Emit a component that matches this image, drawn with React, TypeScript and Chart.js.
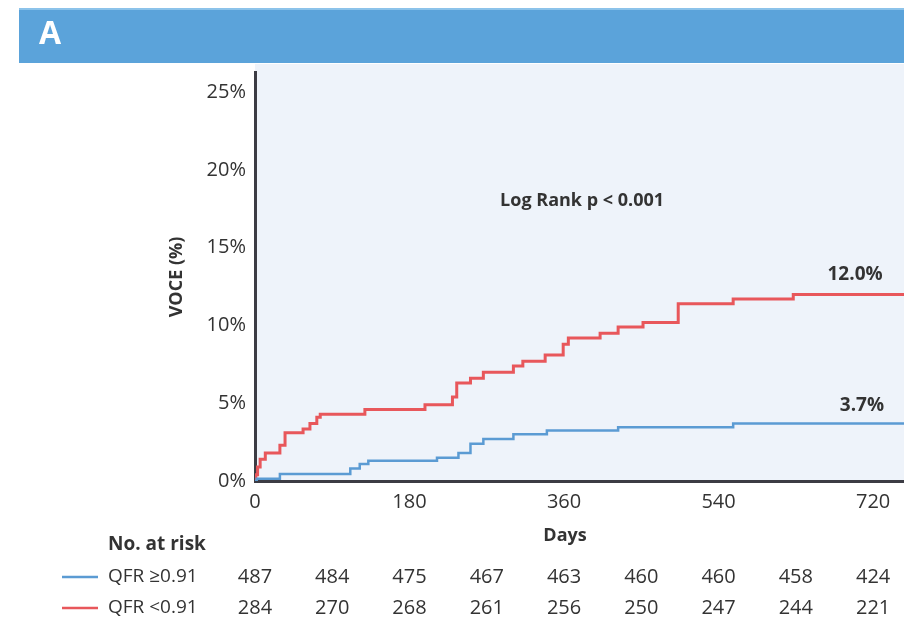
import React, { useEffect, useRef } from 'react';
import { Chart, registerables } from 'chart.js';

Chart.register(...registerables);

// Kaplan–Meier style cumulative incidence (VOCE, %)
const highDays = [0, 2, 29, 111, 122, 132, 212, 237, 251, 266, 301, 340, 423, 557, 756];
const highValues = [0, 0.15, 0.45, 0.8, 1.1, 1.3, 1.5, 1.8, 2.4, 2.7, 3.0, 3.25, 3.45, 3.7, 3.7];

const lowDays = [0, 1, 3, 6, 12, 29, 35, 56, 64, 72, 76, 128, 198, 230, 235, 251, 266, 301, 312, 338, 359, 365, 402, 423, 452, 493, 557, 627, 756];
const lowValues = [0, 0.4, 0.9, 1.4, 1.8, 2.3, 3.1, 3.35, 3.7, 4.1, 4.3, 4.6, 4.9, 5.4, 6.3, 6.6, 7.0, 7.4, 7.7, 8.1, 8.8, 9.2, 9.5, 9.9, 10.2, 11.4, 11.7, 12.0, 12.0];

const xTicks = [0, 180, 360, 540, 720];
const yTicks = [0, 5, 10, 15, 20, 25];

const riskDays = [0, 90, 180, 270, 360, 450, 540, 630, 720];
const riskHigh = [487, 484, 475, 467, 463, 460, 460, 458, 424];
const riskLow = [284, 270, 268, 261, 256, 250, 247, 244, 221];

const seriesLabels = ['QFR \u22650.91', 'QFR <0.91'];
const finalLabels = ['3.7%', '12.0%'];

const BLUE = '#5b9bd3';
const RED = '#e8575b';
const TEXT = '#333333';
const FONT = '"Open Sans", "Noto Sans", sans-serif';

export default function App() {
  const ref = useRef<HTMLCanvasElement | null>(null);

  useEffect(() => {
    if (!ref.current) return;

    const decor = {
      id: 'decor',
      beforeDraw(chart: any) {
        const { ctx, chartArea } = chart;
        ctx.save();
        ctx.fillStyle = '#ffffff';
        ctx.fillRect(0, 0, chart.width, chart.height);
        // header bar
        ctx.fillStyle = '#5ba3da';
        ctx.fillRect(19, 8, chart.width - 19, 55);
        ctx.fillStyle = '#8cc3ea';
        ctx.fillRect(19, 8, chart.width - 19, 2);
        // plot background
        ctx.fillStyle = '#eef3fa';
        ctx.fillRect(chartArea.left, 64, chartArea.right - chartArea.left, chartArea.bottom - 64);
        ctx.restore();
      },
      afterDraw(chart: any) {
        const { ctx } = chart;
        const xs = chart.scales.x;
        const ys = chart.scales.y;
        ctx.save();
        // header letter
        ctx.fillStyle = '#ffffff';
        ctx.font = `bold 32px ${FONT}`;
        ctx.textAlign = 'left';
        ctx.textBaseline = 'middle';
        ctx.fillText('A', 39, 35);

        // y title
        ctx.fillStyle = TEXT;
        ctx.save();
        ctx.translate(177, 277);
        ctx.rotate(-Math.PI / 2);
        ctx.font = `bold 18px ${FONT}`;
        ctx.textAlign = 'center';
        ctx.fillText('VOCE (%)', 0, 0);
        ctx.restore();

        // annotations
        ctx.font = `bold 18px ${FONT}`;
        ctx.textAlign = 'center';
        ctx.fillText('Log Rank p < 0.001', xs.getPixelForValue(381), ys.getPixelForValue(18));
        ctx.font = `bold 19px ${FONT}`;
        ctx.fillText(finalLabels[1], xs.getPixelForValue(699), ys.getPixelForValue(13.3));
        ctx.fillText(finalLabels[0], xs.getPixelForValue(707), ys.getPixelForValue(4.85));

        // x title
        ctx.font = `bold 18px ${FONT}`;
        ctx.fillText('Days', 565, 536);

        // risk table
        ctx.textAlign = 'left';
        ctx.font = `bold 19px ${FONT}`;
        ctx.fillText('No. at risk', 108, 545);
        const rows = [
          { y: 577, color: BLUE, label: seriesLabels[0], vals: riskHigh },
          { y: 608, color: RED, label: seriesLabels[1], vals: riskLow },
        ];
        rows.forEach((r) => {
          ctx.strokeStyle = r.color;
          ctx.lineWidth = 2.5;
          ctx.beginPath();
          ctx.moveTo(62, r.y);
          ctx.lineTo(98, r.y);
          ctx.stroke();
          ctx.fillStyle = TEXT;
          ctx.textAlign = 'left';
          ctx.font = `19px ${FONT}`;
          ctx.fillText(r.label, 108, r.y);
          ctx.textAlign = 'center';
          ctx.font = `20px ${FONT}`;
          r.vals.forEach((v, i) => {
            ctx.fillText(String(v), xs.getPixelForValue(riskDays[i]), r.y);
          });
        });
        ctx.restore();
      },
    };

    const chart = new Chart(ref.current, {
      type: 'line',
      data: {
        datasets: [
          {
            label: seriesLabels[0],
            data: highDays.map((d, i) => ({ x: d, y: highValues[i] })),
            borderColor: BLUE,
            borderWidth: 2.5,
            pointRadius: 0,
            stepped: 'before',
            fill: false,
          },
          {
            label: seriesLabels[1],
            data: lowDays.map((d, i) => ({ x: d, y: lowValues[i] })),
            borderColor: RED,
            borderWidth: 3,
            pointRadius: 0,
            stepped: 'before',
            fill: false,
          },
        ],
      },
      options: {
        animation: false,
        responsive: false,
        maintainAspectRatio: false,
        layout: { padding: { top: 72, left: 0, right: 0, bottom: 0 } },
        plugins: {
          legend: { display: false },
          tooltip: { enabled: false },
        },
        scales: {
          x: {
            type: 'linear',
            min: 0,
            max: 756,
            afterBuildTicks: (s: any) => {
              s.ticks = xTicks.map((v) => ({ value: v }));
            },
            afterFit: (s: any) => {
              s.height = 142;
            },
            grid: { display: false, drawTicks: false },
            border: { display: true, color: '#3c3c44', width: 3 },
            ticks: {
              padding: 9,
              color: TEXT,
              font: { family: FONT, size: 20 },
              maxRotation: 0,
            },
          },
          y: {
            type: 'linear',
            min: 0,
            max: 26.3,
            afterBuildTicks: (s: any) => {
              s.ticks = yTicks.map((v) => ({ value: v }));
            },
            afterFit: (s: any) => {
              s.width = 255;
            },
            grid: { display: false, drawTicks: false },
            border: { display: true, color: '#3c3c44', width: 3 },
            ticks: {
              padding: 9,
              color: TEXT,
              font: { family: FONT, size: 20 },
              callback: (v: any) => `${v}%`,
            },
          },
        },
      },
      plugins: [decor],
    });

    return () => chart.destroy();
  }, []);

  return (
    <div style={{ position: 'absolute', left: 0, top: 0, width: 904, height: 623 }}>
      <canvas ref={ref} width={904} height={623} />
    </div>
  );
}
